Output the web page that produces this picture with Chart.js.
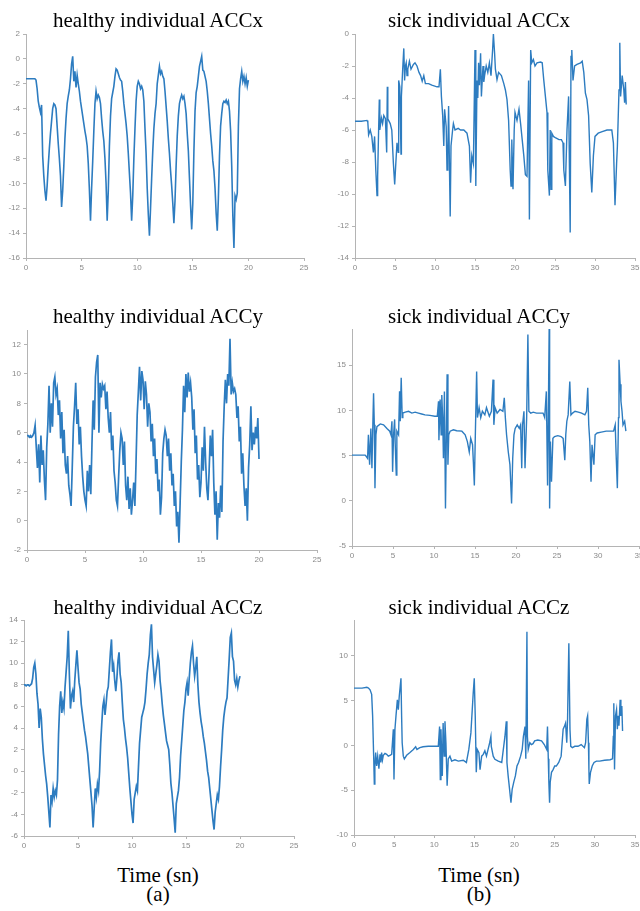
<!DOCTYPE html>
<html><head><meta charset="utf-8">
<script src="https://cdn.jsdelivr.net/npm/chart.js@4.4.1/dist/chart.umd.min.js"></script>
<style>
html,body{margin:0;padding:0;background:#fff;width:640px;height:911px;overflow:hidden;position:relative;}
.t{position:absolute;width:320px;text-align:center;font-family:"Liberation Serif","Times New Roman",serif;font-size:21px;line-height:24px;color:#000;white-space:nowrap;}
canvas{position:absolute;}
</style></head><body>
<script>
// ---------- data ----------
const DT = 0.1; // sampling step (s) of the healthy traces

const healthyX = [
-1.6,-1.6,-1.6,-1.6,-1.6,-1.6,-1.6,-1.6,-1.6,-1.7,
-2.4,-3.4,-3.9,-4.3,-3.7,-7.8,-9.4,-10.6,-11.4,-10.2,
-8.6,-7.2,-6.0,-5.0,-4.0,-3.6,-3.7,-4.0,-5.4,-6.8,
-8.0,-9.4,-11.9,-10.6,-8.6,-6.4,-4.8,-3.6,-3.0,-2.5,
-1.6,-0.4,0.2,-1.8,-1.0,-2.3,-1.3,-2.0,-2.6,-3.4,
-4.0,-4.6,-5.2,-5.8,-6.3,-7.0,-8.4,-10.5,-13.0,-10.4,
-8.2,-5.8,-3.6,-2.6,-3.2,-2.9,-3.1,-3.6,-4.8,-5.8,
-6.6,-8.0,-10.0,-13.0,-10.6,-7.0,-4.6,-3.2,-2.7,-2.2,
-1.4,-0.8,-0.9,-1.2,-1.5,-1.7,-1.8,-2.6,-3.6,-4.4,
-5.2,-6.2,-7.6,-9.2,-10.8,-13.0,-11.0,-8.0,-5.6,-3.4,
-2.2,-1.8,-2.0,-2.4,-2.2,-2.5,-3.4,-5.6,-7.6,-10.4,
-12.5,-14.2,-12.0,-9.6,-7.4,-5.6,-4.4,-3.6,-2.0,-1.3,
-0.6,-1.2,-1.0,-1.4,-1.6,-2.6,-3.8,-5.0,-6.4,-7.6,
-9.0,-10.2,-11.6,-13.2,-11.4,-8.6,-6.2,-4.6,-3.6,-3.2,
-2.9,-3.2,-3.0,-3.6,-4.4,-6.0,-7.4,-9.6,-11.8,-13.7,
-11.6,-7.4,-4.2,-2.7,-2.2,-1.4,-0.6,-0.2,0.2,-0.9,
-1.0,-1.4,-1.8,-2.6,-3.6,-4.8,-6.0,-7.0,-8.2,-9.0,
-10.4,-12.4,-13.8,-11.2,-7.8,-5.4,-4.4,-3.6,-3.4,-3.5,
-3.3,-3.6,-3.4,-4.2,-5.8,-8.6,-12.6,-15.2,-11.0,-11.3,
-10.8,-5.4,-2.4,-1.6,-1.0,-1.8,-1.4,-2.0,-1.5,-2.2,
-1.7];

const healthyY = [
5.8,5.8,5.7,5.8,5.7,5.8,6.0,6.5,5.0,3.6,
5.2,2.6,5.8,3.8,4.8,2.8,1.4,5.0,6.6,9.2,
6.0,8.0,6.4,9.4,9.8,8.6,9.0,7.2,8.2,5.6,
7.4,4.6,6.2,3.8,3.2,4.4,2.4,1.8,1.0,3.6,
6.4,7.8,9.4,6.6,7.6,5.2,6.4,4.4,3.0,2.0,
1.4,1.0,3.4,2.0,3.8,1.8,5.2,8.2,6.2,9.8,
10.8,11.3,6.0,9.4,8.4,9.3,9.0,9.2,7.6,8.8,
7.0,6.0,7.4,4.8,5.8,3.4,2.6,1.4,1.0,3.0,
4.8,6.0,5.6,3.8,5.4,2.4,1.4,3.0,0.8,2.2,
0.4,1.4,2.6,1.0,4.0,7.2,8.8,10.5,8.2,10.2,
9.6,7.6,9.5,8.6,6.4,8.0,7.4,5.4,6.6,4.4,
5.6,3.2,4.2,2.0,2.8,0.4,1.6,4.6,5.6,6.2,
5.8,4.4,5.6,3.4,4.6,2.4,3.2,1.0,2.0,-0.4,
0.6,-1.5,1.2,4.0,6.2,9.2,7.4,10.0,8.4,10.1,
8.8,9.4,8.4,6.2,7.6,4.6,5.8,2.8,3.8,1.6,
2.6,5.0,3.4,6.4,4.0,2.2,1.4,3.4,5.8,4.4,
6.2,2.6,0.4,2.0,-1.3,1.2,0.2,2.4,0.6,5.4,
7.8,9.6,8.0,10.0,9.2,12.4,8.6,9.4,8.8,9.0,
8.6,7.0,7.8,5.4,6.4,3.2,4.6,2.4,1.0,2.2,
0.0,3.6,5.2,7.8,4.8,6.0,5.2,6.4,5.6,7.0,
4.2];

const healthyZ = [
8.0,8.0,7.9,8.0,8.0,7.9,8.0,8.1,8.6,9.6,
10.0,9.0,7.2,6.2,4.0,5.8,5.0,3.0,1.6,0.6,
-0.4,-1.2,-2.4,-3.8,-5.2,-2.2,-2.8,-1.6,-2.4,-1.8,
-2.2,-0.8,3.4,6.0,7.4,5.4,6.4,5.8,7.8,9.2,
10.6,13.0,9.0,5.8,7.0,7.4,6.4,8.4,9.8,11.2,
9.6,8.2,7.6,6.2,5.4,4.6,3.8,3.2,2.4,1.6,
0.4,-0.8,-2.0,-3.2,-5.2,-3.4,-1.6,-2.4,-1.2,-1.8,
0.0,2.6,4.4,6.0,6.6,5.2,6.2,7.4,7.8,9.4,
11.0,12.2,9.2,9.8,8.4,7.4,8.6,10.2,11.0,9.0,
8.2,6.4,4.8,4.0,3.0,2.2,1.2,-0.2,-1.6,-2.8,
-4.0,-4.8,-2.6,-2.0,-1.4,-1.8,0.4,2.6,3.8,5.0,
5.4,5.8,6.4,7.6,9.0,10.0,10.8,12.6,13.6,10.6,
9.4,8.2,9.0,9.8,10.8,10.2,8.4,7.4,6.2,5.2,
4.4,3.6,2.8,2.4,2.0,0.6,-1.1,-2.0,-3.2,-4.4,
-5.7,-3.0,-2.4,-1.8,-0.6,1.4,2.8,4.2,5.6,6.4,
7.6,8.2,7.0,8.6,10.0,11.0,11.6,10.0,8.8,9.6,
10.6,8.0,6.4,5.4,4.6,4.0,3.2,2.6,1.8,1.0,
0.0,-0.6,-1.6,-2.6,-3.6,-4.6,-5.4,-3.8,-3.0,-2.2,
-2.6,-1.4,0.4,2.0,3.8,5.0,5.8,6.4,6.8,8.6,
10.4,12.4,12.8,10.6,10.2,8.4,8.0,8.6,7.8,8.4,
8.8];

const sickXT = [0,0.8,1.5,1.6,1.7,1.9,2.1,2.3,2.45,2.6,2.75,2.83,2.96,3.04,3.1,3.3,3.45,3.6,3.8,3.96,4.04,4.1,4.4,4.6,4.8,4.96,5.1,5.25,5.4,5.46,5.6,5.75,5.8,5.96,6.1,6.2,6.3,6.4,6.5,6.6,6.8,7.0,7.3,7.5,7.75,8.0,8.2,8.4,8.6,8.8,9.2,9.6,10.25,10.5,10.67,10.8,10.96,11.1,11.2,11.4,11.5,11.6,11.7,11.8,11.9,12.0,12.2,12.3,12.5,12.9,13.2,13.6,14.0,14.3,14.45,14.6,14.8,15.0,15.1,15.25,15.35,15.45,15.55,15.7,15.8,16.0,16.1,16.2,16.4,16.6,16.8,17.0,17.2,17.3,17.45,17.55,17.75,17.95,18.3,18.6,18.8,19.0,19.2,19.4,19.5,19.6,19.75,19.9,20.0,20.25,20.5,20.7,20.9,21.1,21.3,21.5,21.7,21.8,21.96,22.1,22.3,22.5,22.75,23.2,23.4,23.6,23.8,24.0,24.1,24.3,24.4,24.5,24.6,24.8,25.1,25.5,25.8,26.0,26.1,26.3,26.5,26.7,26.9,27.0,27.1,27.25,27.45,27.75,28.2,28.4,28.6,28.8,29.0,29.2,29.4,29.6,29.8,30.0,30.4,30.9,31.5,32.1,32.3,32.5,32.7,32.8,33.0,33.1,33.2,33.4,33.6,33.7,33.8,33.9];
const sickXV = [-5.45,-5.45,-5.4,-5.5,-6.3,-6.0,-6.4,-7.4,-6.4,-8.5,-10.1,-8.9,-5.8,-4.1,-6.0,-5.25,-5.6,-5.1,-5.3,-7.4,-3.3,-5.3,-5.6,-6.0,-8.1,-9.4,-8.1,-6.8,-7.4,-2.9,-3.3,-7.5,-3.9,-2.2,-0.9,-2.9,-2.0,-1.8,-2.6,-2.2,-1.7,-2.2,-1.9,-1.8,-2.0,-2.4,-2.6,-2.95,-2.6,-3.1,-3.1,-3.2,-3.3,-3.3,-2.2,-3.9,-5.1,-7.0,-4.7,-5.8,-8.5,-7.6,-4.5,-8.1,-11.4,-7.0,-6.0,-5.6,-6.0,-5.9,-6.0,-6.0,-6.2,-7.0,-9.3,-7.6,-8.1,-1.0,-9.5,-2.9,-4.0,-1.8,-3.2,-1.2,-3.9,-2.0,-3.0,-2.6,-2.0,-2.4,-1.8,-2.6,-1.0,0,-1.2,-2.2,-2.85,-2.4,-2.6,-3.1,-3.5,-4.1,-5.4,-8.5,-9.5,-6.6,-9.7,-6.0,-4.9,-5.4,-4.7,-5.6,-6.6,-7.6,-8.8,-8.9,-2.9,-11.6,-1.0,-1.8,-1.6,-2.0,-1.8,-1.75,-1.8,-2.9,-3.9,-4.9,-8.5,-10.1,-6.0,-9.7,-6.2,-6.4,-6.5,-6.6,-6.6,-6.8,-8.5,-9.5,-6.0,-3.9,-12.4,-1.4,-1.0,-2.9,-2.0,-1.9,-1.8,-1.7,-2.4,-3.7,-4.1,-5.1,-8.1,-9.9,-7.6,-6.4,-6.2,-6.1,-6.0,-6.0,-6.8,-10.7,-8.1,-7.0,-3.5,-0.55,-3.9,-2.6,-3.5,-4.3,-3.0,-4.4];

const sickYT = [0,1.6,1.75,1.9,2.0,2.15,2.3,2.43,2.55,2.63,2.72,2.8,2.92,3.04,3.45,3.85,4.26,4.6,4.75,4.87,4.95,5.07,5.2,5.27,5.4,5.47,5.68,5.8,5.88,6.0,6.12,6.2,6.5,6.9,7.3,7.7,8.1,8.5,8.9,9.5,10.1,10.4,10.55,10.6,10.75,10.87,10.95,11.07,11.15,11.27,11.4,11.5,11.6,11.7,11.8,11.96,12.37,12.77,13.4,13.8,14.07,14.3,14.48,14.7,14.8,14.92,15.05,15.2,15.3,15.5,15.7,15.9,16.2,16.4,16.75,17.0,17.2,17.3,17.45,17.7,18.05,18.4,18.57,18.7,18.85,19.06,19.26,19.46,19.6,19.75,19.9,20.15,20.4,20.56,20.7,20.8,20.97,21.1,21.3,21.45,21.57,21.8,22.1,22.5,22.9,23.3,23.5,23.7,23.85,23.96,24.05,24.1,24.2,24.33,24.5,24.7,25.1,25.5,25.75,25.95,26.07,26.2,26.36,26.56,26.7,26.9,27.2,27.6,28.0,28.4,28.6,28.75,28.87,29.0,29.15,29.27,29.5,29.65,29.9,30.4,31.0,31.6,31.9,32.1,32.2,32.36,32.5,32.56,32.7,32.8,32.93,33.05,33.25,33.4];
const sickYV = [5.05,5.05,4.9,4.7,7.3,4.0,8.0,3.6,8.8,11.9,8.4,1.4,7.3,8.2,8.5,8.4,8.0,7.7,7.3,8.8,3.2,7.3,9.0,6.3,2.85,7.7,7.3,12.1,8.8,13.6,9.2,9.7,9.8,9.9,9.7,9.8,9.7,9.6,9.5,9.45,9.35,9.35,11.0,6.7,11.2,7.3,11.7,8.8,4.7,12.1,-0.85,6.55,14.0,4.0,7.3,7.7,7.85,7.75,7.7,7.3,6.55,5.4,6.9,6.2,4.3,1.7,7.7,14.3,9.2,10.3,9.2,9.9,9.5,10.3,9.35,9.9,13.4,8.4,10.3,9.7,10.1,9.9,11.4,9.2,7.3,5.4,4.0,-0.3,4.7,7.3,8.0,8.4,8.0,8.4,3.6,8.4,9.9,3.6,9.2,18.4,9.9,9.7,9.8,9.7,9.7,9.7,9.2,12.1,1.7,11.0,19.5,-0.85,6.55,2.1,6.9,7.1,7.2,7.1,6.9,4.5,7.3,8.8,9.5,13.2,9.5,9.7,9.9,9.8,9.7,9.5,9.9,12.5,8.4,6.55,2.1,6.2,4.0,7.3,7.5,7.6,7.7,7.7,7.7,8.4,5.4,1.4,9.2,15.6,12.9,11.0,9.9,8.4,8.8,7.7];

const sickZT = [0,1.0,1.6,1.8,2.0,2.2,2.32,2.45,2.53,2.6,2.7,2.82,2.95,3.1,3.24,3.35,3.44,3.55,3.65,3.86,4.07,4.27,4.48,4.69,4.9,4.98,5.1,5.23,5.4,5.52,5.64,5.85,5.93,6.0,6.14,6.27,6.56,6.97,7.39,7.68,7.84,8.2,8.6,9.25,9.9,10.5,10.66,10.75,10.83,10.9,11.0,11.1,11.24,11.33,11.45,11.6,11.74,11.95,12.16,12.57,13.0,13.6,14.0,14.3,14.56,14.73,14.85,14.98,15.1,15.23,15.35,15.56,15.7,15.9,16.1,16.3,16.5,16.7,16.9,17.05,17.1,17.34,17.55,17.97,18.4,18.6,18.8,18.97,19.05,19.2,19.38,19.55,19.7,19.9,20.1,20.3,20.5,20.75,20.95,21.1,21.3,21.4,21.54,21.6,21.7,21.9,22.1,22.3,22.5,22.9,23.36,23.7,24.0,24.1,24.2,24.27,24.36,24.44,24.6,24.8,25.0,25.2,25.5,25.8,26.05,26.2,26.35,26.5,26.6,26.76,26.9,27.0,27.2,27.5,27.9,28.3,28.7,28.85,29.0,29.1,29.2,29.26,29.3,29.46,29.67,29.9,30.2,30.6,31.2,31.9,32.2,32.3,32.36,32.45,32.57,32.7,32.8,32.9,33.0,33.15,33.24,33.36,33.45];
const sickZV = [6.4,6.4,6.5,6.4,6.2,5.7,3.3,-1.2,-4.3,-2.3,-0.8,-2.3,-1.2,-2.6,-1.0,-1.9,-0.8,-1.6,-1.1,-0.9,-1.0,-1.2,-1.1,-1.0,1.8,-3.8,1.8,3.3,5.1,4.0,5.5,7.5,3.3,0.3,-1.2,-1.5,-1.1,-0.8,-0.45,-0.15,-0.45,-0.25,-0.15,-0.1,-0.1,-0.1,2.1,-3.8,1.8,-0.45,-3.4,2.5,-1.2,2.7,0.3,-4.5,-1.5,-1.2,-1.75,-1.6,-1.75,-1.65,-1.9,-0.45,1.4,4.0,5.85,7.5,3.3,-3.0,-0.45,-0.8,-2.7,-1.2,-1.0,-0.6,-1.2,-0.45,0.3,1.0,-0.1,-1.2,-1.55,-1.75,-1.9,-0.45,1.0,2.7,-1.9,-3.4,-4.9,-6.4,-4.9,-4.1,-3.4,-2.3,-1.9,-1.2,-0.45,1.0,2.1,-1.5,12.7,1.0,-0.45,0.3,0.1,0.2,0.5,0.6,0.5,0.1,-0.45,2.1,-1.5,-4.1,-6.4,-4.1,-3.0,-2.7,-2.3,-2.3,-1.9,-1.2,1.8,2.1,2.5,0.3,2.9,11.4,1.8,-0.1,-0.25,-0.1,-0.1,0.1,-0.25,0.3,2.9,3.3,0.3,-2.7,-4.3,-3.0,-2.3,-1.9,-1.75,-1.75,-1.65,-1.6,-1.5,1.0,4.7,-2.7,3.3,4.0,1.8,3.3,2.2,5.1,3.3,4.4,1.6];

const xTicksHealthy = [0,5,10,15,20,25];
const xTicksSick = [0,5,10,15,20,25,30,35];
const yTicksHX = [-16,-14,-12,-10,-8,-6,-4,-2,0,2];
const yTicksSX = [-14,-12,-10,-8,-6,-4,-2,0];
const yTicksHY = [-2,0,2,4,6,8,10,12];
const yTicksSY = [-5,0,5,10,15];
const yTicksHZ = [-6,-4,-2,0,2,4,6,8,10,12,14];
const yTicksSZ = [-10,-5,0,5,10];

const titles = ["healthy individual ACCx","sick individual ACCx","healthy individual ACCy","sick individual ACCy","healthy individual ACCz","sick individual ACCz"];
const xLabel = "Time (sn)";
const subLabels = ["(a)","(b)"];

// ---------- layout ----------
function uniform(vals){ return vals.map((v,i)=>({x: Math.round(i*DT*100)/100, y: v})); }
function paired(ts, vs){ return ts.map((t,i)=>({x: t, y: vs[i]})); }

const panels = [
 {L:26, R:304, T:34, B:258, xmax:25, ymin:-16, ymax:2, xt:xTicksHealthy, yt:yTicksHX, pts:uniform(healthyX), title:titles[0], cx:158, tb:27, bw:1.6},
 {L:355,R:635, T:34, B:258, xmax:35, ymin:-14, ymax:0, xt:xTicksSick, yt:yTicksSX, pts:paired(sickXT,sickXV), title:titles[1], cx:479, tb:27, bw:1.4},
 {L:27, R:317, T:330,B:550, xmax:25, ymin:-2, ymax:13, xt:xTicksHealthy, yt:yTicksHY, pts:uniform(healthyY), title:titles[2], cx:158, tb:323, bw:1.7},
 {L:352,R:639, T:329,B:546, xmax:35, ymin:-5, ymax:19, xt:xTicksSick, yt:yTicksSY, pts:paired(sickYT,sickYV), title:titles[3], cx:479, tb:323, bw:1.4},
 {L:24, R:294, T:620,B:836, xmax:25, ymin:-6, ymax:14, xt:xTicksHealthy, yt:yTicksHZ, pts:uniform(healthyZ), title:titles[4], cx:158, tb:614, bw:1.7},
 {L:354,R:635, T:620,B:835, xmax:35, ymin:-10, ymax:14, xt:xTicksSick, yt:yTicksSZ, pts:paired(sickZT,sickZV), title:titles[5], cx:479, tb:614, bw:1.4}
];

const YW = 30, XH = 16, PT = 8, PR = 12;
const AX = '#b4b4b4', TC = '#8a8a8a', LINE = '#2d7cc0';

function addText(txt, cx, baseline){
  const d = document.createElement('div');
  d.className = 't';
  d.textContent = txt;
  d.style.left = (cx - 160) + 'px';
  d.style.top = (baseline - 19) + 'px';
  document.body.appendChild(d);
}

panels.forEach(p => {
  const c = document.createElement('canvas');
  const w = p.R - p.L + YW + PR, h = p.B - p.T + PT + XH;
  c.width = w; c.height = h;
  c.style.left = (p.L - YW) + 'px';
  c.style.top = (p.T - PT) + 'px';
  c.style.width = w + 'px'; c.style.height = h + 'px';
  document.body.appendChild(c);
  const axisCommon = {
    grid:{display:true, drawOnChartArea:false, drawTicks:true, tickLength:3, color:AX, lineWidth:1},
    border:{display:true, color:AX, width:1}
  };
  new Chart(c.getContext('2d'), {
    type:'line',
    data:{datasets:[{data:p.pts, borderColor:LINE, borderWidth:p.bw, pointRadius:0, fill:false, tension:0, borderJoinStyle:'miter'}]},
    options:{
      responsive:false, animation:false, events:[],
      layout:{padding:{top:PT, right:PR, left:0, bottom:0}},
      plugins:{legend:{display:false}, tooltip:{enabled:false}},
      scales:{
        x:Object.assign({type:'linear', min:0, max:p.xmax,
          afterBuildTicks:s=>{ s.ticks = p.xt.map(v=>({value:v})); },
          afterFit:s=>{ s.height = XH; },
          ticks:{padding:2, color:TC, font:{family:'Liberation Sans', size:8}, maxRotation:0, autoSkip:false}
        }, axisCommon),
        y:Object.assign({type:'linear', min:p.ymin, max:p.ymax,
          afterBuildTicks:s=>{ s.ticks = p.yt.map(v=>({value:v})); },
          afterFit:s=>{ s.width = YW; },
          ticks:{padding:3, color:TC, font:{family:'Liberation Sans', size:8}, autoSkip:false}
        }, axisCommon)
      }
    }
  });
  addText(p.title, p.cx, p.tb);
});

addText(xLabel, 158, 882);
addText(xLabel, 479, 882);
addText(subLabels[0], 158, 901);
addText(subLabels[1], 479, 901);
</script>
</body></html>
